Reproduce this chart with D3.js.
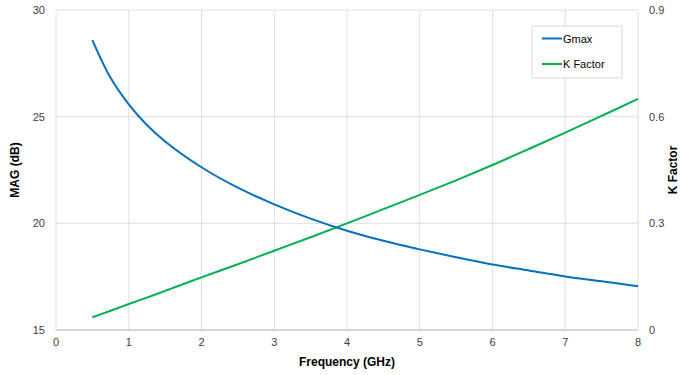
<!DOCTYPE html>
<html lang="en">
<head>
  <meta charset="UTF-8" />
  <script src="https://cdnjs.cloudflare.com/ajax/libs/d3/7.8.5/d3.min.js"></script>
  <title>MAG and K Factor</title>
  <style>
    body { margin: 0; background: #fff; }
    text { font-family: "Liberation Sans", Arial, sans-serif; }
  </style>
</head>
<body>
  <svg width="681" height="375"></svg>
  <script>
    // frequency points (GHz)
    const freq = [0.5, 0.75, 1, 1.25, 1.5, 2, 2.5, 3, 3.5, 4, 4.5, 5, 5.5, 6, 6.5, 7, 7.5, 8];
    // Gmax / MAG in dB
    const gmax = [28.59, 26.82, 25.58, 24.61, 23.84, 22.63, 21.67, 20.89, 20.22, 19.65, 19.18, 18.78, 18.41, 18.07, 17.79, 17.51, 17.28, 17.05];
    // K factor
    const kFactor = [0.036, 0.054, 0.073, 0.091, 0.110, 0.148, 0.185, 0.223, 0.261, 0.300, 0.340, 0.380, 0.421, 0.464, 0.509, 0.555, 0.602, 0.650];

    const xTicks = [0, 1, 2, 3, 4, 5, 6, 7, 8];
    const yLeftTicks = [15, 20, 25, 30];
    const yRightTicks = [0, 0.3, 0.6, 0.9];

    const svg = d3.select("svg");
    const margin = { left: 56, right: 43, top: 10, bottom: 45 };
    const width = +svg.attr("width");
    const height = +svg.attr("height");
    const innerW = width - margin.left - margin.right;
    const innerH = height - margin.top - margin.bottom;

    const x = d3.scaleLinear().domain([0, 8]).range([margin.left, margin.left + innerW]);
    const yL = d3.scaleLinear().domain([15, 30]).range([margin.top + innerH, margin.top]);
    const yR = d3.scaleLinear().domain([0, 0.9]).range([margin.top + innerH, margin.top]);

    // grid
    svg.append("g")
      .selectAll("line.v")
      .data(xTicks)
      .join("line")
      .attr("x1", d => x(d)).attr("x2", d => x(d))
      .attr("y1", margin.top).attr("y2", margin.top + innerH)
      .attr("stroke", "#e0e0e0").attr("stroke-width", 1);
    svg.append("g")
      .selectAll("line.h")
      .data(yLeftTicks)
      .join("line")
      .attr("x1", margin.left).attr("x2", margin.left + innerW)
      .attr("y1", d => yL(d)).attr("y2", d => yL(d))
      .attr("stroke", "#e0e0e0").attr("stroke-width", 1);

    // bottom axis line
    svg.append("line")
      .attr("x1", margin.left).attr("x2", margin.left + innerW)
      .attr("y1", yL(15)).attr("y2", yL(15))
      .attr("stroke", "#bfbfbf");

    // tick labels
    svg.append("g").selectAll("text")
      .data(xTicks).join("text")
      .attr("x", d => x(d)).attr("y", yL(15) + 16)
      .attr("text-anchor", "middle")
      .attr("font-size", 11).attr("fill", "#404040")
      .text(d => d);
    svg.append("g").selectAll("text")
      .data(yLeftTicks).join("text")
      .attr("x", margin.left - 11).attr("y", d => yL(d) + 4)
      .attr("text-anchor", "end")
      .attr("font-size", 11).attr("fill", "#404040")
      .text(d => d);
    svg.append("g").selectAll("text")
      .data(yRightTicks).join("text")
      .attr("x", margin.left + innerW + 11).attr("y", d => yR(d) + 4)
      .attr("text-anchor", "start")
      .attr("font-size", 11).attr("fill", "#404040")
      .text(d => d);

    // axis titles
    svg.append("text")
      .attr("x", x(4)).attr("y", 366)
      .attr("text-anchor", "middle")
      .attr("font-size", 12).attr("font-weight", "bold").attr("fill", "#000")
      .text("Frequency (GHz)");
    svg.append("text")
      .attr("transform", `translate(19,${yL(22.5)}) rotate(-90)`)
      .attr("text-anchor", "middle")
      .attr("font-size", 12).attr("font-weight", "bold").attr("fill", "#000")
      .text("MAG (dB)");
    svg.append("text")
      .attr("transform", `translate(677,${yR(0.45)}) rotate(-90)`)
      .attr("text-anchor", "middle")
      .attr("font-size", 12).attr("font-weight", "bold").attr("fill", "#000")
      .text("K Factor");

    // lines
    const lineL = d3.line().x((d, i) => x(freq[i])).y(d => yL(d)).curve(d3.curveCatmullRom.alpha(0.5));
    const lineR = d3.line().x((d, i) => x(freq[i])).y(d => yR(d)).curve(d3.curveCatmullRom.alpha(0.5));
    svg.append("path").datum(kFactor)
      .attr("d", lineR).attr("fill", "none")
      .attr("stroke", "#00b050").attr("stroke-width", 2);
    svg.append("path").datum(gmax)
      .attr("d", lineL).attr("fill", "none")
      .attr("stroke", "#0070c0").attr("stroke-width", 2);

    // legend
    const legend = svg.append("g").attr("transform", "translate(532,26)");
    legend.append("rect")
      .attr("width", 90).attr("height", 52)
      .attr("fill", "#fff").attr("stroke", "#d9d9d9");
    const items = [["Gmax", "#0070c0"], ["K Factor", "#00b050"]];
    items.forEach(([name, color], i) => {
      const yy = 12.5 + i * 25.5;
      legend.append("line")
        .attr("x1", 10).attr("x2", 30).attr("y1", yy).attr("y2", yy)
        .attr("stroke", color).attr("stroke-width", 2);
      legend.append("text")
        .attr("x", 31).attr("y", yy + 4)
        .attr("font-size", 11).attr("fill", "#000")
        .text(name);
    });
  </script>
</body>
</html>
